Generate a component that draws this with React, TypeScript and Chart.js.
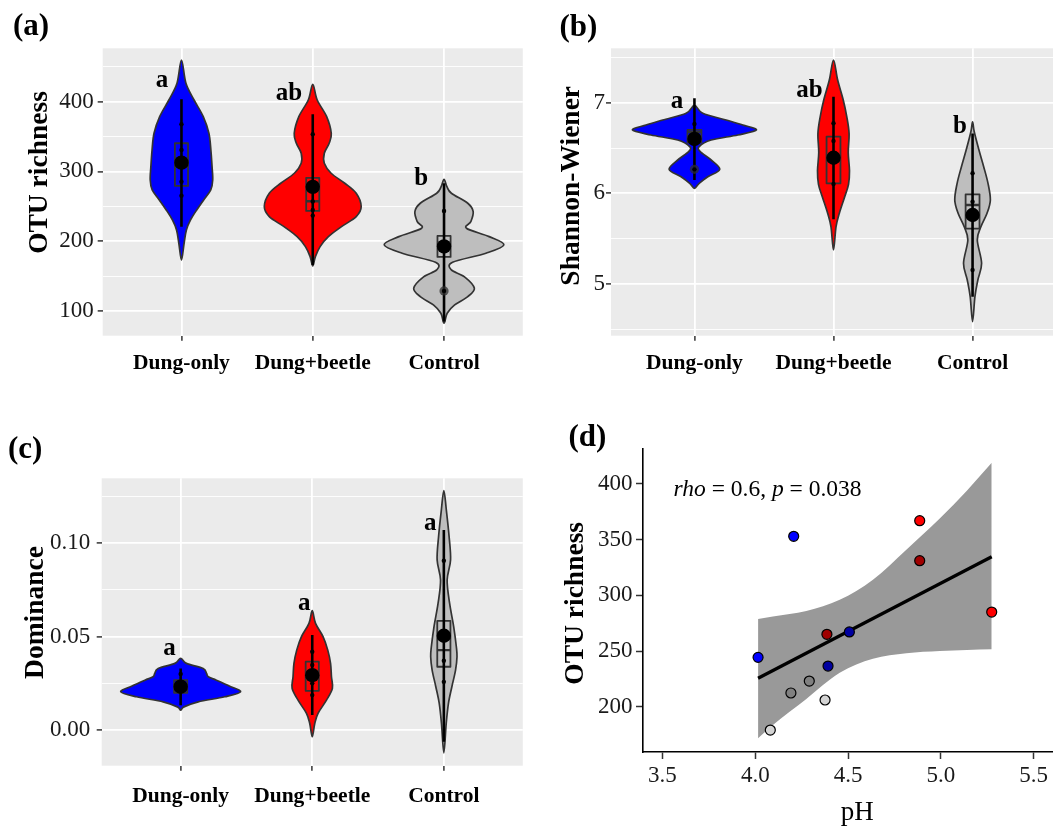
import React, { useEffect, useRef } from "react";
import { Chart, registerables } from "chart.js";

Chart.register(...registerables);

const SERIF = '"Liberation Serif", "Times New Roman", Times, serif';

// ---------------- shared ----------------
const categories = ["Dung-only", "Dung+beetle", "Control"];
const violinFills = ["#0000FF", "#FF0000", "#BEBEBE"];

// ---------------- (a) OTU richness ----------------
const otuTicks = [100, 200, 300, 400];
const otuTickLabels = ["100", "200", "300", "400"];
const otuMinorTicks = [150, 250, 350, 450];
const otuDungOnlyY = [459.7, 426.4, 402.4, 378.5, 354.7, 330.8, 306.9, 287.8, 273.5, 259.2, 244.8, 230.5, 216.2, 197.1, 173];
const otuDungOnlyW = [0, 0.034, 0.096, 0.166, 0.209, 0.224, 0.233, 0.238, 0.223, 0.169, 0.116, 0.069, 0.0375, 0.02, 0];
const otuBeetleY = [424.9, 402.4, 378.5, 354.7, 340.4, 326.1, 311.7, 297.4, 283.1, 268.8, 249.6, 235.2, 220.9, 206.6, 192.3, 177.9, 164.6];
const otuBeetleW = [0, 0.034, 0.106, 0.141, 0.125, 0.088, 0.088, 0.14, 0.244, 0.331, 0.369, 0.331, 0.219, 0.119, 0.056, 0.02, 0];
const otuControlY = [288.8, 278.2, 268.8, 254.4, 242.4, 228, 218.6, 206.6, 194.7, 182.8, 169.8, 158.9, 149.0, 132.7, 120.6, 108.7, 96.8, 82.5];
const otuControlW = [0, 0.022, 0.056, 0.181, 0.222, 0.204, 0.171, 0.344, 0.456, 0.319, 0.065, 0.056, 0.156, 0.231, 0.181, 0.081, 0.024, 0];
const otuBoxes = [[279.2, 308, 340.4], [243.4, 257.3, 290.9], [177.5, 192, 207.6]];
const otuMeans = [312.6, 277.9, 192.5];
const otuErrLow = [220.9, 166, 85];
const otuErrHigh = [403.4, 381.9, 283];
const otuDots = [[367.6, 330.8, 285.4, 265.3], [353.3, 257, 244.8, 236.7], [243.4, 128.8]];
const otuOutliers = [[], [], [128.8]];
const otuLetters = ["a", "ab", "b"];
const otuLetterX = [0.851, 1.818, 2.827];
const otuLetterY = [420.6, 402.4, 280.7];

// ---------------- (b) Shannon-Wiener ----------------
const shTicks = [5, 6, 7];
const shTickLabels = ["5", "6", "7"];
const shMinorTicks = [4.5, 5.5, 6.5, 7.5];
const shDungOnlyY = [6.97, 6.883, 6.809, 6.754, 6.699, 6.644, 6.588, 6.515, 6.46, 6.368, 6.265, 6.184, 6.111, 6.056];
const shDungOnlyW = [0, 0.06, 0.228, 0.348, 0.446, 0.312, 0.12, 0.034, 0.042, 0.12, 0.182, 0.096, 0.034, 0];
const shBeetleY = [7.47, 7.25, 7.03, 6.85, 6.66, 6.45, 6.25, 6.1, 5.96, 5.78, 5.63, 5.375];
const shBeetleW = [0, 0.03, 0.07, 0.095, 0.112, 0.106, 0.115, 0.108, 0.08, 0.042, 0.018, 0];
const shControlY = [6.79, 6.68, 6.478, 6.294, 6.111, 5.927, 5.78, 5.632, 5.485, 5.228, 5.044, 4.86, 4.585];
const shControlW = [0, 0.012, 0.046, 0.08, 0.111, 0.128, 0.104, 0.06, 0.034, 0.065, 0.038, 0.017, 0];
const shBoxes = [[6.56, 6.675, 6.70], [6.111, 6.4, 6.625], [5.61, 5.872, 5.989]];
const shMeans = [6.6, 6.393, 5.761];
const shErrLow = [6.147, 5.714, 4.86];
const shErrHigh = [7.05, 7.066, 6.66];
const shDots = [[6.765, 6.265], [6.773, 6.578, 6.103], [6.221, 5.908, 5.155]];
const shOutliers = [[6.265], [], []];
const shLetters = ["a", "ab", "b"];
const shLetterX = [0.875, 1.827, 2.909];
const shLetterY = [6.938, 7.066, 6.662];

// ---------------- (c) Dominance ----------------
const domTicks = [0, 0.05, 0.1];
const domTickLabels = ["0.00", "0.05", "0.10"];
const domMinorTicks = [0.025, 0.075, 0.125];
const domDungOnlyY = [0.0384, 0.0357, 0.033, 0.0303, 0.0285, 0.0267, 0.0235, 0.0205, 0.0178, 0.0151, 0.0124, 0.0107];
const domDungOnlyW = [0, 0.044, 0.171, 0.197, 0.21, 0.272, 0.373, 0.456, 0.335, 0.133, 0.025, 0];
const domBeetleY = [0.0639, 0.0571, 0.05, 0.0428, 0.0357, 0.0285, 0.0223, 0.016, 0.0089, 0.0035, -0.0036];
const domBeetleW = [0, 0.025, 0.082, 0.118, 0.139, 0.146, 0.153, 0.108, 0.044, 0.019, 0];
const domControlY = [0.1282, 0.1178, 0.1036, 0.0911, 0.0803, 0.0678, 0.0553, 0.0446, 0.0392, 0.0321, 0.0232, 0.0143, 0.0035, -0.0122];
const domControlW = [0, 0.019, 0.04, 0.051, 0.025, 0.044, 0.075, 0.095, 0.1, 0.089, 0.061, 0.035, 0.018, 0];
const domBoxes = [[0.0199, 0.023, 0.0267], [0.021, 0.029, 0.0366], [0.0339, 0.0428, 0.0585]];
const domMeans = [0.0232, 0.0294, 0.0505];
const domErrLow = [0.0133, 0.008, -0.0063];
const domErrHigh = [0.033, 0.0509, 0.1071];
const domDots = [[0.03], [0.0419, 0.0348, 0.025, 0.0187], [0.0907, 0.0371, 0.0258]];
const domOutliers = [[], [], []];
const domLetters = ["a", "a", "a"];
const domLetterX = [0.916, 1.939, 2.897];
const domLetterY = [0.0401, 0.0643, 0.1071];

// ---------------- (d) OTU richness vs pH ----------------
const phValues = [4.207, 4.886, 4.886, 5.274, 4.386, 4.507, 4.015, 4.392, 4.291, 4.192, 4.376, 4.081];
const phOtu = [353.0, 367.0, 331.1, 285.0, 265.0, 267.1, 244.3, 236.5, 223.0, 212.3, 206.0, 179.0];
const phColors = ["#0000FF", "#FF0000", "#A00000", "#FF0000", "#A00000", "#0000A0", "#0000FF", "#0000A0", "#808080", "#808080", "#D3D3D3", "#D3D3D3"];
const fitPH = [4.015, 5.274];
const fitOtu = [225.6, 334.7];
const bandPH = [4.015, 4.095, 4.275, 4.455, 4.634, 4.814, 4.994, 5.14, 5.274];
const bandUpper = [278.7, 281, 286, 296, 314, 341, 369, 394, 419];
const bandLower = [171.6, 183.5, 207, 230.5, 243, 248, 250, 251, 251.5];
const phTicks = [3.5, 4, 4.5, 5, 5.5];
const phTickLabels = ["3.5", "4.0", "4.5", "5.0", "5.5"];
const phOtuTicks = [200, 250, 300, 350, 400];
const phOtuTickLabels = ["200", "250", "300", "350", "400"];
const corrParts: [string, boolean][] = [["rho", true], [" = 0.6, ", false], ["p", true], [" = 0.038", false]];
const corrPos = [3.56, 389.2];

// ---------------- helpers ----------------
type Pt = { x: number; y: number };

function smoothClosed(ctx: CanvasRenderingContext2D, pts: Pt[]) {
  const n = pts.length;
  ctx.moveTo(pts[0].x, pts[0].y);
  for (let i = 0; i < n; i++) {
    const p0 = pts[(i - 1 + n) % n];
    const p1 = pts[i];
    const p2 = pts[(i + 1) % n];
    const p3 = pts[(i + 2) % n];
    ctx.bezierCurveTo(
      p1.x + (p2.x - p0.x) / 6,
      p1.y + (p2.y - p0.y) / 6,
      p2.x - (p3.x - p1.x) / 6,
      p2.y - (p3.y - p1.y) / 6,
      p2.x,
      p2.y
    );
  }
  ctx.closePath();
}

function drawYTitle(ctx: CanvasRenderingContext2D, text: string, baseX: number, centerY: number) {
  ctx.save();
  ctx.translate(baseX, centerY);
  ctx.rotate(-Math.PI / 2);
  ctx.font = `bold 27.5px ${SERIF}`;
  ctx.fillStyle = "#000";
  ctx.textAlign = "center";
  ctx.textBaseline = "alphabetic";
  ctx.fillText(text, 0, 0);
  ctx.restore();
}

function drawTag(ctx: CanvasRenderingContext2D, text: string, x: number, y: number) {
  ctx.save();
  ctx.font = `bold 31px ${SERIF}`;
  ctx.fillStyle = "#000";
  ctx.textAlign = "left";
  ctx.textBaseline = "alphabetic";
  ctx.fillText(text, x, y);
  ctx.restore();
}

type ViolinPanel = {
  yMin: number;
  yMax: number;
  major: number[];
  majorLabels: string[];
  minor: number[];
  profiles: { ys: number[]; ws: number[] }[];
  boxes: number[][];
  means: number[];
  errLow: number[];
  errHigh: number[];
  dots: number[][];
  outliers: number[][];
  letters: string[];
  letterX: number[];
  letterY: number[];
  tag: string;
  tagPos: [number, number];
  yTitle: string;
  yTitlePos: [number, number];
  yAxisWidth: number;
  xAxisHeight: number;
  padTop: number;
  padRight: number;
  yTickPad: number;
  xTickPad: number;
};

const panelA: ViolinPanel = {
  yMin: 64.6, yMax: 476.5,
  major: otuTicks, majorLabels: otuTickLabels, minor: otuMinorTicks,
  profiles: [
    { ys: otuDungOnlyY, ws: otuDungOnlyW },
    { ys: otuBeetleY, ws: otuBeetleW },
    { ys: otuControlY, ws: otuControlW },
  ],
  boxes: otuBoxes, means: otuMeans, errLow: otuErrLow, errHigh: otuErrHigh,
  dots: otuDots, outliers: otuOutliers,
  letters: otuLetters, letterX: otuLetterX, letterY: otuLetterY,
  tag: "(a)", tagPos: [13, 34.5],
  yTitle: "OTU richness", yTitlePos: [46.7, 172.5],
  yAxisWidth: 102.7, xAxisHeight: 64.3, padTop: 48.3, padRight: 0.7,
  yTickPad: 4, xTickPad: 10,
};

const panelB: ViolinPanel = {
  yMin: 4.43, yMax: 7.6,
  major: shTicks, majorLabels: shTickLabels, minor: shMinorTicks,
  profiles: [
    { ys: shDungOnlyY, ws: shDungOnlyW },
    { ys: shBeetleY, ws: shBeetleW },
    { ys: shControlY, ws: shControlW },
  ],
  boxes: shBoxes, means: shMeans, errLow: shErrLow, errHigh: shErrHigh,
  dots: shDots, outliers: shOutliers,
  letters: shLetters, letterX: shLetterX, letterY: shLetterY,
  tag: "(b)", tagPos: [29.5, 36],
  yTitle: "Shannon-Wiener", yTitlePos: [49.3, 185.8],
  yAxisWidth: 81, xAxisHeight: 64.3, padTop: 48.3, padRight: 14,
  yTickPad: 1, xTickPad: 10,
};

const panelC: ViolinPanel = {
  yMin: -0.0191, yMax: 0.1348,
  major: domTicks, majorLabels: domTickLabels, minor: domMinorTicks,
  profiles: [
    { ys: domDungOnlyY, ws: domDungOnlyW },
    { ys: domBeetleY, ws: domBeetleW },
    { ys: domControlY, ws: domControlW },
  ],
  boxes: domBoxes, means: domMeans, errLow: domErrLow, errHigh: domErrHigh,
  dots: domDots, outliers: domOutliers,
  letters: domLetters, letterX: domLetterX, letterY: domLetterY,
  tag: "(c)", tagPos: [8, 47.5],
  yTitle: "Dominance", yTitlePos: [43.3, 202.5],
  yAxisWidth: 101.7, xAxisHeight: 63.3, padTop: 68.3, padRight: 7,
  yTickPad: 6.5, xTickPad: 12.5,
};

function makeViolinChart(canvas: HTMLCanvasElement, p: ViolinPanel) {
  const isMajor = (v: number) => p.major.some((m) => Math.abs(m - v) < 1e-9);
  const allY = [...p.major, ...p.minor].sort((a, b) => a - b);
  const boxHalf = 0.05;

  const plugin = {
    id: "violinPanel",
    beforeDraw(chart: any) {
      const { ctx, chartArea: a } = chart;
      ctx.save();
      ctx.fillStyle = "#EBEBEB";
      ctx.fillRect(a.left, a.top, a.right - a.left, a.bottom - a.top);
      ctx.restore();
    },
    beforeDatasetsDraw(chart: any) {
      const { ctx, chartArea: a } = chart;
      const xs = chart.scales.x;
      const ys = chart.scales.y;
      ctx.save();
      ctx.beginPath();
      ctx.rect(a.left, a.top, a.right - a.left, a.bottom - a.top);
      ctx.clip();
      p.profiles.forEach((prof, i) => {
        const c = i + 1;
        const pts: Pt[] = [];
        for (let k = 0; k < prof.ys.length; k++) {
          pts.push({ x: xs.getPixelForValue(c + prof.ws[k]), y: ys.getPixelForValue(prof.ys[k]) });
        }
        for (let k = prof.ys.length - 2; k >= 1; k--) {
          pts.push({ x: xs.getPixelForValue(c - prof.ws[k]), y: ys.getPixelForValue(prof.ys[k]) });
        }
        ctx.beginPath();
        smoothClosed(ctx, pts);
        ctx.fillStyle = violinFills[i];
        ctx.fill();
        ctx.strokeStyle = "#333333";
        ctx.lineWidth = 1.7;
        ctx.lineJoin = "round";
        ctx.stroke();
      });
      p.boxes.forEach((b, i) => {
        const c = i + 1;
        const x0 = xs.getPixelForValue(c - boxHalf);
        const x1 = xs.getPixelForValue(c + boxHalf);
        const yq1 = ys.getPixelForValue(b[0]);
        const ymed = ys.getPixelForValue(b[1]);
        const yq3 = ys.getPixelForValue(b[2]);
        ctx.strokeStyle = "#333333";
        ctx.lineWidth = 1.8;
        ctx.strokeRect(x0, yq3, x1 - x0, yq1 - yq3);
        ctx.beginPath();
        ctx.moveTo(x0, ymed);
        ctx.lineTo(x1, ymed);
        ctx.lineWidth = 2.4;
        ctx.stroke();
      });
      ctx.restore();
    },
    afterDatasetsDraw(chart: any) {
      const ctx = chart.ctx;
      const xs = chart.scales.x;
      const ys = chart.scales.y;
      ctx.save();
      ctx.font = `bold 25px ${SERIF}`;
      ctx.fillStyle = "#000";
      ctx.textAlign = "center";
      ctx.textBaseline = "alphabetic";
      p.letters.forEach((t, i) => {
        ctx.fillText(t, xs.getPixelForValue(p.letterX[i]), ys.getPixelForValue(p.letterY[i]));
      });
      ctx.restore();
    },
    afterDraw(chart: any) {
      const ctx = chart.ctx;
      drawTag(ctx, p.tag, p.tagPos[0], p.tagPos[1]);
      drawYTitle(ctx, p.yTitle, p.yTitlePos[0], p.yTitlePos[1]);
    },
  };

  const dotData: Pt[] = [];
  p.dots.forEach((arr, i) => arr.forEach((v) => dotData.push({ x: i + 1, y: v })));
  const outData: Pt[] = [];
  p.outliers.forEach((arr, i) => arr.forEach((v) => outData.push({ x: i + 1, y: v })));

  const datasets: any[] = [
    {
      data: p.means.map((m, i) => ({ x: i + 1, y: m })),
      pointRadius: 7.2,
      backgroundColor: "#000",
      borderWidth: 0,
      order: 0,
    },
    { data: dotData, pointRadius: 2.2, backgroundColor: "#000", borderWidth: 0, order: 1 },
    { data: outData, pointRadius: 4.6, backgroundColor: "rgba(45,45,45,0.75)", borderWidth: 0, order: 2 },
    ...p.errLow.map((lo, i) => ({
      data: [
        { x: i + 1, y: lo },
        { x: i + 1, y: p.errHigh[i] },
      ],
      showLine: true,
      borderColor: "#000",
      borderWidth: 2.6,
      pointRadius: 0,
      fill: false,
      order: 3 + i,
    })),
  ];

  return new Chart(canvas, {
    type: "scatter",
    data: { datasets },
    options: {
      responsive: false,
      animation: false,
      events: [],
      layout: { padding: { top: p.padTop, right: p.padRight, left: 0, bottom: 0 } },
      plugins: { legend: { display: false }, tooltip: { enabled: false } },
      scales: {
        x: {
          type: "linear",
          min: 0.4,
          max: 3.6,
          afterBuildTicks: (s: any) => {
            s.ticks = [1, 2, 3].map((v) => ({ value: v }));
          },
          afterFit: (s: any) => {
            s.height = p.xAxisHeight;
          },
          ticks: {
            callback: (v: any) => categories[Math.round(Number(v)) - 1] ?? "",
            font: { family: SERIF, size: 21.5, weight: "bold" },
            color: "#000",
            padding: p.xTickPad,
            maxRotation: 0,
            autoSkip: false,
          },
          grid: { color: "#FFFFFF", lineWidth: 1.8, tickColor: "#333333", tickLength: 5, tickWidth: 1.5 },
          border: { display: false },
        },
        y: {
          type: "linear",
          min: p.yMin,
          max: p.yMax,
          afterBuildTicks: (s: any) => {
            s.ticks = allY.map((v) => ({ value: v }));
          },
          afterFit: (s: any) => {
            s.width = p.yAxisWidth;
          },
          ticks: {
            callback: (v: any) => {
              const idx = p.major.findIndex((m) => Math.abs(m - Number(v)) < 1e-9);
              return idx >= 0 ? p.majorLabels[idx] : "";
            },
            font: { family: SERIF, size: 23 },
            color: "#1a1a1a",
            padding: p.yTickPad,
            autoSkip: false,
          },
          grid: {
            color: "#FFFFFF",
            lineWidth: (c: any) => (c.tick && isMajor(c.tick.value) ? 1.8 : 0.9),
            tickColor: (c: any) => (c.tick && isMajor(c.tick.value) ? "#333333" : "rgba(0,0,0,0)"),
            tickLength: 5,
            tickWidth: 1.5,
          },
          border: { display: false },
        },
      },
    } as any,
    plugins: [plugin as any],
  });
}

function makePhChart(canvas: HTMLCanvasElement) {
  const plugin = {
    id: "phPanel",
    afterDraw(chart: any) {
      const { ctx, chartArea: a } = chart;
      const xs = chart.scales.x;
      const ys = chart.scales.y;
      ctx.save();
      let x = xs.getPixelForValue(corrPos[0]);
      const y = ys.getPixelForValue(corrPos[1]);
      ctx.textAlign = "left";
      ctx.textBaseline = "alphabetic";
      ctx.fillStyle = "#000";
      corrParts.forEach(([t, it]) => {
        ctx.font = `${it ? "italic " : ""}23.5px ${SERIF}`;
        ctx.fillText(t, x, y);
        x += ctx.measureText(t).width;
      });
      ctx.font = `27px ${SERIF}`;
      ctx.textAlign = "center";
      ctx.fillText("pH", (a.left + a.right) / 2, 420);
      ctx.restore();
      drawTag(ctx, "(d)", 38.5, 46);
      drawYTitle(ctx, "OTU richness", 53.3, 203.3);
    },
  };

  const datasets: any[] = [
    {
      data: phValues.map((v, i) => ({ x: v, y: phOtu[i] })),
      pointRadius: 5,
      backgroundColor: phColors,
      borderColor: "#000",
      borderWidth: 1.2,
      order: 0,
    },
    {
      data: fitPH.map((v, i) => ({ x: v, y: fitOtu[i] })),
      showLine: true,
      borderColor: "#000",
      borderWidth: 3.3,
      pointRadius: 0,
      fill: false,
      order: 1,
    },
    {
      data: bandPH.map((v, i) => ({ x: v, y: bandUpper[i] })),
      showLine: true,
      borderColor: "rgba(0,0,0,0)",
      borderWidth: 1,
      pointRadius: 0,
      backgroundColor: "#999999",
      fill: "+1",
      cubicInterpolationMode: "monotone",
      order: 2,
    },
    {
      data: bandPH.map((v, i) => ({ x: v, y: bandLower[i] })),
      showLine: true,
      borderColor: "rgba(0,0,0,0)",
      borderWidth: 1,
      pointRadius: 0,
      fill: false,
      cubicInterpolationMode: "monotone",
      order: 3,
    },
  ];

  return new Chart(canvas, {
    type: "scatter",
    data: { datasets },
    options: {
      responsive: false,
      animation: false,
      events: [],
      layout: { padding: { top: 49, right: 28.3, left: 0, bottom: 0 } },
      plugins: { legend: { display: false }, tooltip: { enabled: false } },
      scales: {
        x: {
          type: "linear",
          min: 3.395,
          max: 5.705,
          afterBuildTicks: (s: any) => {
            s.ticks = phTicks.map((v) => ({ value: v }));
          },
          afterFit: (s: any) => {
            s.height = 77;
          },
          ticks: {
            callback: (v: any) => {
              const idx = phTicks.findIndex((m) => Math.abs(m - Number(v)) < 1e-9);
              return idx >= 0 ? phTickLabels[idx] : "";
            },
            font: { family: SERIF, size: 23 },
            color: "#1a1a1a",
            padding: 3,
            maxRotation: 0,
            autoSkip: false,
          },
          grid: { display: true, drawOnChartArea: false, drawTicks: true, tickLength: 7, tickColor: "#333333", tickWidth: 1.5 },
          border: { display: true, color: "#000", width: 1.6 },
        },
        y: {
          type: "linear",
          min: 159.3,
          max: 431.4,
          afterBuildTicks: (s: any) => {
            s.ticks = phOtuTicks.map((v) => ({ value: v }));
          },
          afterFit: (s: any) => {
            s.width = 113;
          },
          ticks: {
            callback: (v: any) => {
              const idx = phOtuTicks.findIndex((m) => Math.abs(m - Number(v)) < 1e-9);
              return idx >= 0 ? phOtuTickLabels[idx] : "";
            },
            font: { family: SERIF, size: 23 },
            color: "#1a1a1a",
            padding: 3.5,
            autoSkip: false,
          },
          grid: { display: true, drawOnChartArea: false, drawTicks: true, tickLength: 7, tickColor: "#333333", tickWidth: 1.5 },
          border: { display: true, color: "#000", width: 1.6 },
        },
      },
    } as any,
    plugins: [plugin as any],
  });
}

function ChartCanvas(props: {
  left: number;
  top: number;
  width: number;
  height: number;
  build: (c: HTMLCanvasElement) => Chart;
}) {
  const ref = useRef<HTMLCanvasElement>(null);
  useEffect(() => {
    const chart = props.build(ref.current as HTMLCanvasElement);
    return () => chart.destroy();
  }, []);
  return (
    <canvas
      ref={ref}
      width={props.width}
      height={props.height}
      style={{ position: "absolute", left: props.left, top: props.top, width: props.width, height: props.height }}
    />
  );
}

export default function App() {
  return (
    <div
      style={{
        position: "absolute",
        left: 0,
        top: 0,
        width: 1053,
        height: 829,
        overflow: "hidden",
        background: "#FFFFFF",
      }}
    >
      <ChartCanvas left={0} top={0} width={530} height={400} build={(c) => makeViolinChart(c, panelA)} />
      <ChartCanvas left={530} top={0} width={540} height={400} build={(c) => makeViolinChart(c, panelB)} />
      <ChartCanvas left={0} top={410} width={530} height={419} build={(c) => makeViolinChart(c, panelC)} />
      <ChartCanvas left={530} top={400} width={570} height={429} build={(c) => makePhChart(c)} />
    </div>
  );
}
